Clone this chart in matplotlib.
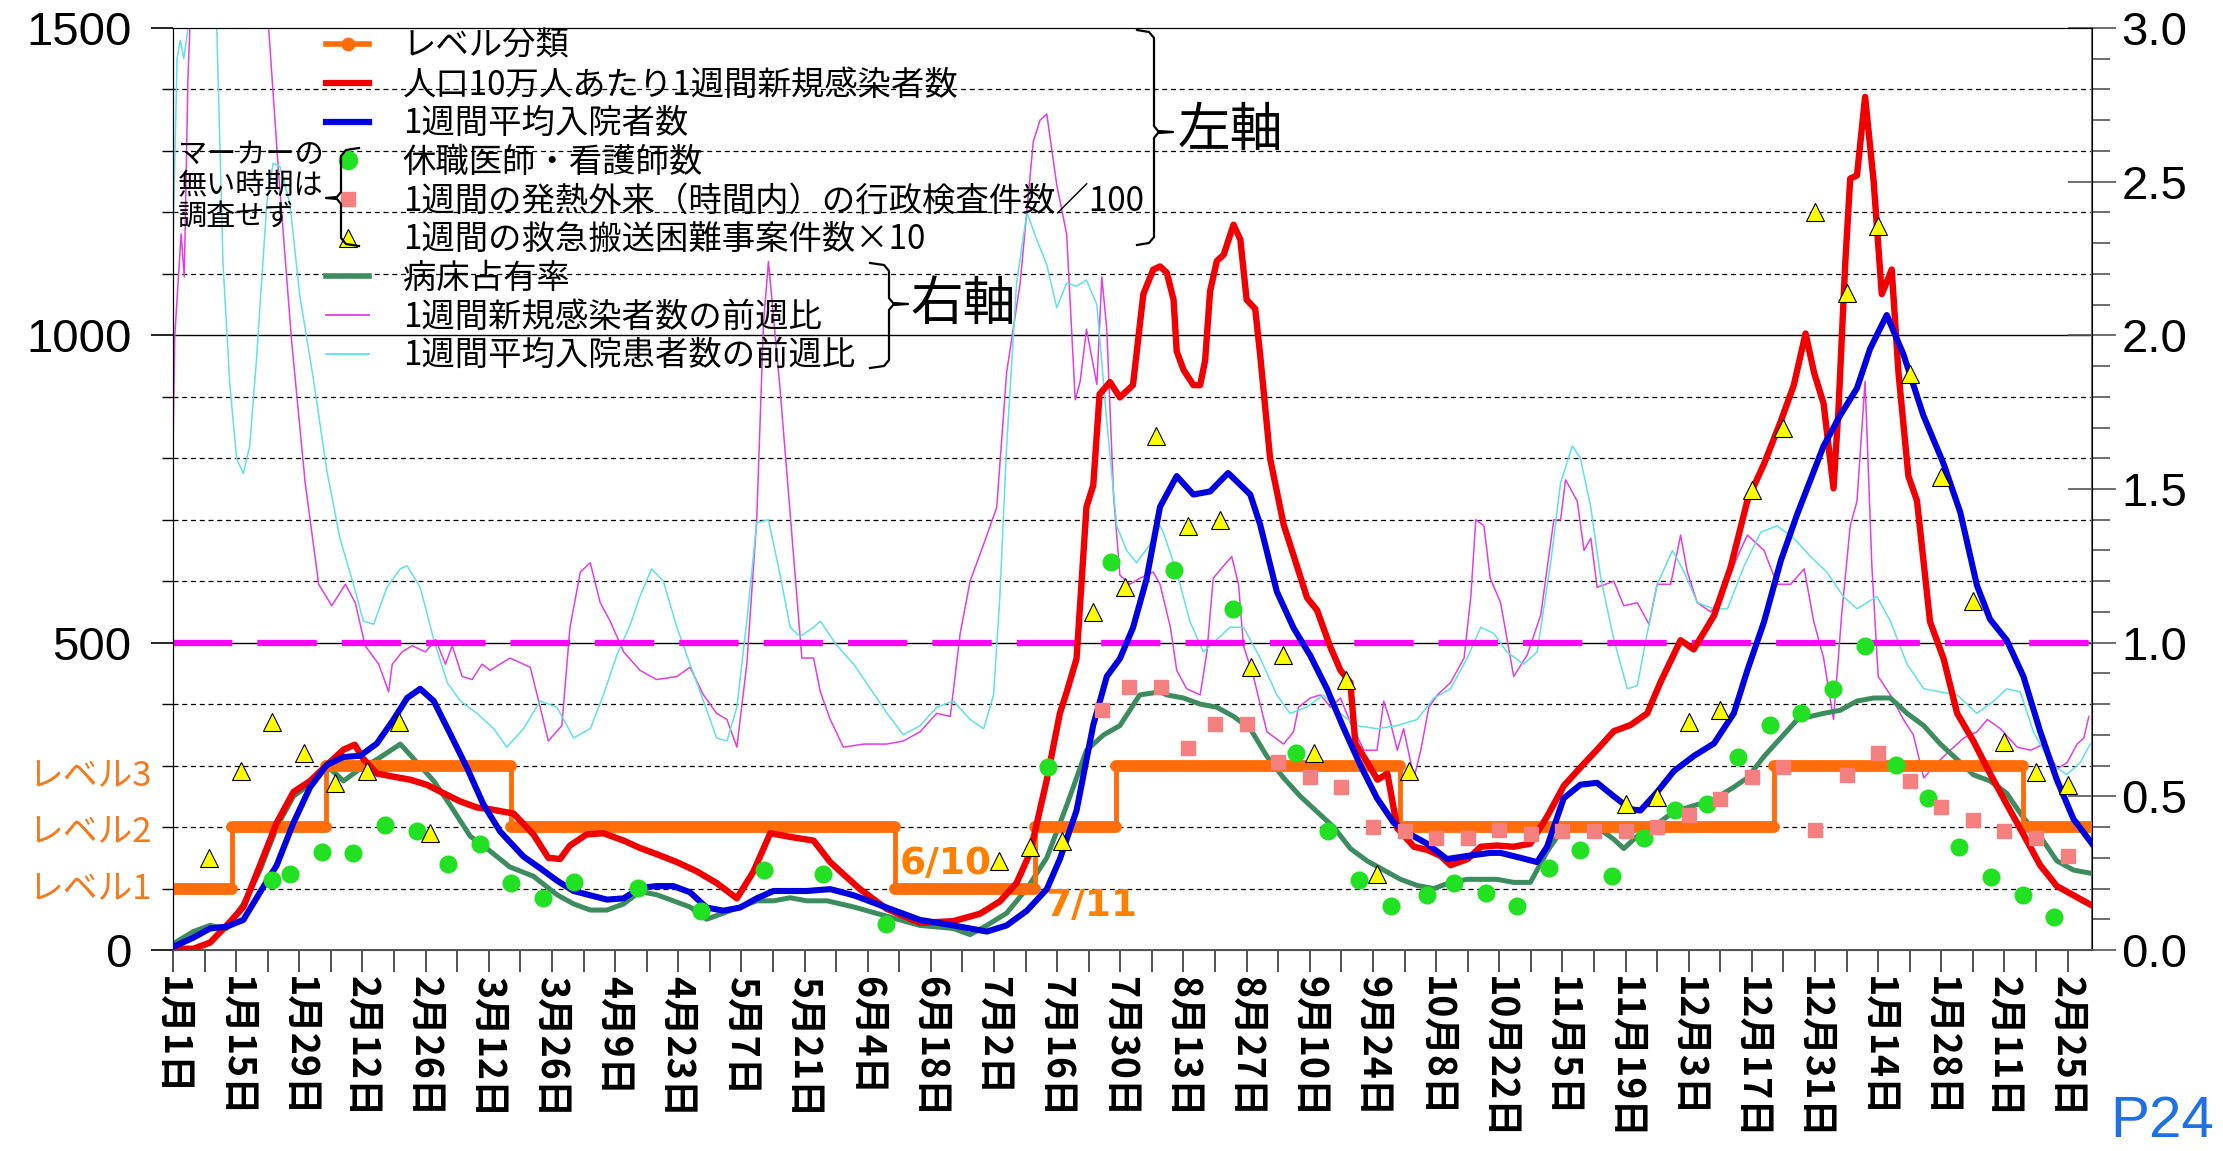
import numpy as np
import matplotlib.pyplot as plt
from matplotlib.lines import Line2D

plt.rcParams['font.family'] = ['Noto Sans CJK JP', 'DejaVu Sans']

W, H = 2223, 1151

# x axis: days counted from 1月1日
tick_days = list(range(0, 421, 14))
tick_labels = ['1月1日', '1月15日', '1月29日', '2月12日', '2月26日', '3月12日', '3月26日',
               '4月9日', '4月23日', '5月7日', '5月21日', '6月4日', '6月18日', '7月2日',
               '7月16日', '7月30日', '8月13日', '8月27日', '9月10日', '9月24日', '10月8日',
               '10月22日', '11月5日', '11月19日', '12月3日', '12月17日', '12月31日',
               '1月14日', '1月28日', '2月11日', '2月25日']
x_end = 425.4

# レベル分類 (left axis: level 1 = 100 ...)
level_edges = [0, 13, 34, 75, 160, 191, 209, 272, 355, 410, 425.4]
level_vals = [100, 200, 300, 200, 100, 200, 300, 200, 300, 200]

# 人口10万人あたり1週間新規感染者数 (day, value)
red = [(0, 2), (4.5, 2), (8.2, 12), (11.9, 40), (15.6, 70), (19.3, 138), (23, 207), (26.7, 257),
       (30.4, 275), (34.1, 301), (37.8, 326), (40.3, 334), (42.2, 311), (45.2, 287), (48.9, 282),
       (52.6, 277), (56.2, 269), (60, 255), (63.6, 242), (67.3, 232), (70.3, 229), (75.5, 222),
       (79.9, 188), (83.2, 150), (85.8, 148), (88, 170), (91.7, 188), (95.4, 190), (99.9, 178),
       (103.5, 166), (107.2, 156), (111.7, 143), (116.1, 128), (120.5, 109), (125, 84), (128.7, 128),
       (132.4, 190), (136.8, 184), (142, 178), (145.7, 143), (147.9, 128), (152.3, 99), (158.2, 67),
       (165.6, 44), (173, 47), (178.9, 59), (183.3, 79), (187, 109), (190, 158), (193.7, 277),
       (196.6, 385), (198, 417), (200.3, 474), (202.5, 721), (204, 756), (205.4, 904), (207.7, 924),
       (209.9, 899), (212.8, 919), (215.1, 1067), (217.3, 1107), (218.8, 1112), (220.3, 1102),
       (221.8, 1058), (222.5, 974), (224, 944), (226.2, 919), (227.7, 919), (228.8, 959),
       (229.9, 1072), (231.4, 1121), (232.9, 1131), (235.1, 1180), (236.6, 1156), (238, 1058),
       (239.9, 1043), (241, 968), (243.2, 800), (246.2, 692), (248.4, 642), (251.4, 573),
       (253.6, 553), (256.5, 494), (258.8, 455), (261, 435), (262.1, 336), (264.7, 306), (267, 277),
       (269.2, 287), (271.4, 198), (275.1, 168), (278, 163), (281, 153), (283.2, 138), (287, 148),
       (289.9, 168), (293.5, 170), (297.2, 168), (300.9, 173), (304.6, 217), (308.3, 267),
       (312, 297), (315.7, 326), (319.4, 356), (323.1, 366), (326.8, 385), (329.7, 435),
       (334.2, 504), (337.1, 489), (341.6, 544), (345.3, 623), (349, 731), (352.7, 791),
       (356.4, 860), (359.3, 919), (361.9, 1003), (363.8, 939), (365.9, 889), (368.1, 751),
       (369.2, 880), (370.7, 1117), (371.8, 1255), (373.3, 1260), (375.1, 1388), (377, 1250),
       (378.8, 1067), (381, 1107), (382.5, 939), (384.7, 771), (386.6, 731), (389.5, 534),
       (392.5, 474), (395.5, 385), (399.1, 340), (402.8, 287), (406.5, 237), (410.2, 188),
       (413.9, 138), (417.6, 104), (421.3, 89), (425, 74)]

# 1週間平均入院者数
blue = [(0, 5), (4.5, 20), (8.2, 35), (11.9, 38), (15.6, 49), (19.3, 94), (23, 138), (26.7, 207),
        (30.4, 265), (34.1, 301), (37.8, 314), (41.5, 316), (45.2, 336), (48.9, 375), (51.9, 410),
        (54.8, 425), (57.8, 405), (61.5, 351), (65.2, 296), (68.8, 237), (72.5, 193), (74, 181),
        (77.7, 152), (81.4, 133), (85.1, 113), (88.8, 96), (92.5, 89), (96.2, 82), (99.9, 84),
        (103.5, 101), (107.2, 104), (110.9, 104), (114.6, 94), (118.3, 69), (122, 64), (125.7, 69),
        (129.4, 84), (133.1, 96), (136.8, 96), (140.5, 96), (145.7, 99), (150.9, 89), (158.2, 69),
        (165.6, 49), (173, 40), (180.4, 30), (184.8, 40), (189.3, 64), (193.7, 99), (196.6, 148),
        (200.3, 227), (204, 366), (207, 445), (209.9, 474), (212.8, 524), (215.8, 603),
        (218.8, 721), (222.5, 771), (226.2, 741), (229.9, 746), (233.9, 776), (238.8, 741),
        (241, 692), (244.7, 583), (248.4, 524), (252.1, 479), (255.8, 425), (259.5, 361),
        (263.2, 301), (266.9, 247), (270.6, 207), (274.3, 188), (278, 173), (282.4, 148),
        (286.9, 153), (292, 158), (294.3, 158), (298.7, 150), (302.4, 143), (304.6, 168),
        (308.3, 247), (312, 269), (315.7, 272), (319.4, 250), (323.1, 229), (325.3, 227),
        (329, 257), (332.7, 291), (337.2, 316), (341.6, 336), (346, 385), (349, 455), (352.7, 534),
        (356.4, 633), (360.1, 710), (365.9, 820), (369.6, 870), (373.3, 914), (376.2, 978),
        (379.9, 1033), (383.6, 969), (388, 870), (392.5, 791), (396.2, 712), (399.9, 593),
        (402.8, 538), (406.5, 504), (410.2, 445), (413.9, 356), (417.6, 277), (421.3, 213),
        (425.4, 173)]

# 休職医師・看護師数
doc_days = [22, 26, 33, 40, 47, 54, 61, 68, 75, 82, 89, 103, 117, 131, 144, 158, 194, 208, 222,
            235, 249, 256, 263, 270, 278, 284, 291, 298, 305, 312, 319, 326, 333, 340, 347, 354,
            361, 368, 375, 382, 389, 396, 403, 410, 417]
doc_vals = [114, 124, 160, 158, 203, 193, 140, 173, 109, 84, 111, 101, 64, 130, 124, 42, 298, 632,
            618, 555, 321, 193, 114, 71, 89, 109, 92, 72, 133, 163, 121, 183, 227, 237, 314, 366,
            385, 425, 494, 301, 247, 168, 119, 89, 54]

# 1週間の発熱外来(時間内)の行政検査件数/100
fever_days = [206, 212, 219, 225, 231, 238, 245, 252, 259, 266, 273, 280, 287, 294, 301, 308, 315,
              322, 329, 336, 343, 350, 357, 364, 371, 378, 385, 392, 399, 406, 413, 420]
fever_vals = [390, 428, 428, 328, 368, 368, 306, 282, 265, 200, 193, 183, 183, 196, 188, 193, 193,
              193, 200, 219, 245, 282, 298, 196, 284, 321, 275, 232, 212, 193, 183, 153]

# 1週間の救急搬送困難事案件数×10
amb_days = [8, 15, 22, 29, 36, 43, 50, 57, 183, 190, 197, 204, 211, 218, 225, 232, 239, 246, 253,
            260, 267, 274, 322, 329, 336, 343, 350, 357, 364, 371, 378, 385, 392, 399, 406, 413, 420]
amb_vals = [150, 291, 371, 321, 272, 291, 371, 190, 145, 168, 178, 550, 590, 837, 689, 699, 460,
            480, 321, 440, 124, 291, 237, 249, 371, 390, 749, 850, 1200, 1069, 1178, 937, 769, 568,
            338, 289, 269]

# 病床占有率 (right axis)
bed = [(0, 0.02), (4.5, 0.06), (8.2, 0.08), (11.9, 0.07), (15.6, 0.15), (19.3, 0.26), (23, 0.40),
       (26.7, 0.50), (30.4, 0.54), (34.1, 0.60), (37.8, 0.55), (41.5, 0.59), (45.2, 0.62),
       (50.4, 0.67), (54.1, 0.61), (57.8, 0.55), (61.5, 0.47), (65.9, 0.37), (69.6, 0.33),
       (74.7, 0.27), (79.9, 0.24), (85.1, 0.18), (88.8, 0.15), (92.5, 0.13), (96.2, 0.13),
       (99.9, 0.15), (103.5, 0.19), (107.2, 0.18), (110.9, 0.16), (114.6, 0.14), (118.3, 0.10),
       (122, 0.12), (125.7, 0.14), (129.4, 0.16), (133.1, 0.16), (136.8, 0.17), (140.5, 0.16),
       (145, 0.16), (150.9, 0.14), (158.2, 0.11), (165.6, 0.08), (173, 0.07), (176.7, 0.05),
       (180.4, 0.08), (184.8, 0.12), (189.3, 0.20), (193.7, 0.30), (198.1, 0.47), (202.5, 0.65),
       (206.3, 0.70), (209.9, 0.73), (214.3, 0.83), (218.8, 0.84), (220.3, 0.83), (224, 0.82),
       (227.7, 0.80), (231.4, 0.79), (235.1, 0.76), (238.8, 0.72), (242.5, 0.63), (246.2, 0.56),
       (249.9, 0.50), (253.6, 0.45), (257.3, 0.40), (261, 0.33), (264.7, 0.29), (268.4, 0.26),
       (272.1, 0.23), (275.8, 0.21), (279.5, 0.20), (283.2, 0.22), (286.9, 0.23), (290, 0.23),
       (293.5, 0.23), (297.2, 0.22), (300.9, 0.22), (304.6, 0.32), (308.3, 0.40), (312, 0.40),
       (315.7, 0.40), (319.4, 0.36), (321.6, 0.33), (325.3, 0.38), (329, 0.41), (332.7, 0.45),
       (337.2, 0.47), (341.6, 0.49), (346, 0.53), (349, 0.56), (352.7, 0.63), (356.4, 0.69),
       (360.1, 0.75), (365.9, 0.77), (369.6, 0.78), (373.3, 0.81), (377, 0.82), (380.7, 0.82),
       (384.4, 0.77), (388.1, 0.73), (391.8, 0.67), (395.5, 0.62), (399.1, 0.57), (402.8, 0.55),
       (406.5, 0.51), (410.2, 0.43), (413.9, 0.37), (417.6, 0.29), (421.3, 0.26), (425, 0.25)]

# 1週間新規感染者数の前週比 (right axis)
inf_ratio = [(0, 1.64), (0.4, 2.0), (1.8, 2.33), (2.5, 2.19), (3.3, 2.83), (4.0, 3.1), (12, 3.6),
             (20.5, 3.1), (21.2, 3.0), (23.4, 2.53), (26.3, 1.98), (29.3, 1.52), (32.3, 1.19),
             (35.2, 1.12), (38.2, 1.19), (40.4, 1.13), (42.6, 0.99), (45.6, 0.93), (47.8, 0.84),
             (48.6, 0.93), (50.8, 0.97), (53, 0.99), (56, 0.97), (58.2, 1.01), (60.4, 0.93),
             (61.9, 0.99), (64.1, 0.89), (66.3, 0.88), (68.5, 0.93), (70.3, 0.91), (74.7, 0.95),
             (79.2, 0.92), (81.4, 0.79), (83.2, 0.68), (86.2, 0.73), (88, 1.05), (90.3, 1.23),
             (92.5, 1.26), (94.7, 1.13), (96.9, 1.07), (99.9, 0.97), (103.5, 0.91), (107.2, 0.88),
             (111.7, 0.89), (114.6, 0.92), (117.6, 0.83), (120.5, 0.77), (122.8, 0.75), (125, 0.66),
             (127.2, 0.93), (129.4, 1.40), (130.9, 2.04), (132, 2.24), (134.6, 1.82), (136.8, 1.42),
             (139.4, 0.95), (142, 0.95), (143.5, 0.84), (145.7, 0.75), (148.6, 0.66), (153.1, 0.67),
             (158.2, 0.67), (161.9, 0.68), (165.6, 0.71), (169.3, 0.77), (172.3, 0.76),
             (174.5, 1.03), (176.7, 1.20), (179.7, 1.32), (182.6, 1.44), (184.8, 1.88),
             (187.8, 2.17), (190.7, 2.63), (192.2, 2.70), (193.7, 2.72), (195.9, 2.49),
             (198.1, 2.33), (200, 1.79), (201.1, 1.85), (202.5, 2.02), (204.8, 1.84), (205.9, 2.19),
             (207, 2.02), (208.5, 1.48), (209.9, 1.22), (212.1, 1.19), (214.4, 1.21), (217.3, 1.23),
             (218.8, 1.19), (221.1, 1.05), (222.5, 0.91), (224.7, 0.85), (227.7, 0.83),
             (229.2, 0.97), (230.6, 1.21), (232.9, 1.25), (234.7, 1.28), (236.2, 1.19),
             (237.3, 0.99), (239.5, 0.89), (242.5, 0.71), (246.2, 0.67), (248.4, 0.71),
             (249.5, 0.79), (252.1, 0.82), (254.4, 0.83), (256.6, 0.79), (258.8, 0.82), (261, 0.74),
             (264, 0.65), (266.9, 0.65), (268.4, 0.81), (269.9, 0.74), (271.4, 0.65), (272.8, 0.72),
             (275.1, 0.56), (276.6, 0.65), (278.4, 0.79), (280.3, 0.83), (283.2, 0.87),
             (286.2, 0.95), (287.7, 1.15), (288.8, 1.40), (290.6, 1.38), (292, 1.21), (294.3, 1.13),
             (297.2, 0.89), (300.2, 0.96), (303.2, 1.09), (306.1, 1.40), (307.6, 1.40),
             (308.7, 1.53), (311.3, 1.46), (312.8, 1.30), (314.3, 1.34), (315.7, 1.18),
             (319.4, 1.20), (321.6, 1.12), (324.6, 1.13), (327.2, 1.06), (329, 1.19), (332, 1.19),
             (334.2, 1.35), (335.7, 1.23), (337.9, 1.13), (340.9, 1.10), (343.8, 1.17),
             (346.8, 1.28), (349, 1.35), (352.7, 1.30), (355.6, 1.19), (358.6, 1.19),
             (361.6, 1.24), (363.7, 1.07), (365.9, 0.95), (368.1, 0.75), (369.9, 1.09),
             (371.8, 1.38), (373.3, 1.46), (375.1, 1.85), (376.6, 1.25), (378, 0.89), (380.7, 0.83),
             (383.6, 0.75), (385.8, 0.70), (388.1, 0.56), (391.1, 0.61), (394, 0.65), (397, 0.69),
             (399.9, 0.71), (402.2, 0.75), (405.1, 0.72), (408.8, 0.66), (411.8, 0.65),
             (414.7, 0.67), (417.7, 0.59), (419.9, 0.61), (422.1, 0.67), (423.6, 0.69),
             (424.7, 0.76)]

# 1週間平均入院患者数の前週比 (right axis)
hosp_ratio = [(0, 2.3), (0.9, 2.9), (1.6, 2.96), (2.4, 2.9), (3.3, 3.0), (4, 3.1), (7, 3.3),
              (9.7, 3.0), (11.1, 2.23), (12.6, 1.84), (14.1, 1.60), (15.6, 1.55), (17, 1.64),
              (18.5, 1.92), (20.8, 2.43), (22.2, 2.56), (23.7, 2.55), (25.9, 2.43), (28.1, 2.13),
              (31.1, 1.86), (34.1, 1.56), (37, 1.34), (40, 1.19), (42.2, 1.07), (44.5, 1.06),
              (47.4, 1.18), (50.4, 1.24), (51.9, 1.25), (54.8, 1.18), (57.8, 1.01), (60.8, 0.87),
              (63.7, 0.81), (67.4, 0.77), (71.1, 0.72), (74, 0.66), (77.7, 0.72), (81.4, 0.81),
              (85.1, 0.79), (88.8, 0.69), (92.5, 0.72), (95.4, 0.83), (98.4, 0.96), (101.4, 1.06),
              (103.5, 1.15), (106.1, 1.24), (108.7, 1.20), (111.7, 1.05), (114.6, 0.93),
              (117.6, 0.81), (120.5, 0.69), (122.8, 0.68), (125, 0.79), (127.2, 1.07),
              (129.4, 1.39), (132, 1.40), (134.6, 1.22), (136.8, 1.05), (139, 1.02), (142, 1.05),
              (143.5, 1.07), (147.2, 0.99), (150.9, 0.93), (154.6, 0.85), (158.3, 0.77),
              (161.9, 0.70), (165.6, 0.73), (169.3, 0.79), (173, 0.81), (176.7, 0.75),
              (179.7, 0.72), (181.9, 0.83), (183.3, 1.15), (184.8, 1.64), (187, 2.17),
              (189.3, 2.40), (191.5, 2.31), (193.7, 2.23), (195.9, 2.09), (198.1, 2.17),
              (200.3, 2.16), (202.5, 2.18), (204.8, 2.10), (207, 1.72), (209.2, 1.38),
              (211.4, 1.30), (213.6, 1.26), (216.6, 1.32), (218.8, 1.38), (219.5, 1.36),
              (222.5, 1.23), (225.4, 1.07), (228.4, 0.97), (231.4, 1.01), (234.3, 1.05),
              (237.3, 1.05), (241, 0.95), (244.7, 0.83), (247.6, 0.77), (251.3, 0.79), (255, 0.83),
              (258.7, 0.77), (262.4, 0.73), (266.9, 0.72), (271.3, 0.73), (275.8, 0.75),
              (279.5, 0.82), (283.2, 0.85), (286.9, 0.95), (289.9, 1.05), (292.8, 1.03),
              (295.7, 0.97), (299.4, 0.93), (302.4, 0.97), (305.4, 1.26), (307.6, 1.52),
              (310.2, 1.64), (312, 1.60), (314.3, 1.44), (316.5, 1.21), (319.4, 1.01),
              (322.4, 0.85), (324.6, 0.86), (326.8, 1.03), (329, 1.19), (332.4, 1.30), (335, 1.23),
              (337.9, 1.13), (341.6, 1.11), (344.6, 1.11), (348.3, 1.25), (352, 1.36),
              (355.6, 1.38), (359.3, 1.34), (363, 1.28), (366.6, 1.23), (370.3, 1.15),
              (373.3, 1.11), (377.7, 1.15), (380.7, 1.07), (384.4, 0.93), (388.1, 0.85),
              (391.8, 0.84), (395.5, 0.83), (399.9, 0.77), (403.6, 0.81), (406.5, 0.85),
              (409.5, 0.84), (412.4, 0.71), (416.1, 0.61), (419.8, 0.57), (422.8, 0.61),
              (425, 0.67)]

ORANGE = '#FF6D0A'
RED = '#F00000'
BLUE = '#0000E0'
DKGREEN = '#3C8C5F'
LIME = '#22E022'
PINK = '#F48080'
MAGENTA = '#E040E0'
CYAN = '#60E0E8'

fig = plt.figure(figsize=(W / 100, H / 100), dpi=100)
ax = fig.add_axes([173 / W, 1 - 950 / H, (2092 - 173) / W, (950 - 28) / H])
ax2 = ax.twinx()
ax.set_zorder(ax2.get_zorder() + 1)
ax.patch.set_visible(False)

# gridlines (every 100 on left = 0.2 on right)
for g in np.arange(0.2, 2.9, 0.2):
    solid = abs(g - 1.0) < 1e-6 or abs(g - 2.0) < 1e-6
    ax2.axhline(g, color='black', lw=1.0 if solid else 0.9,
                ls='-' if solid else (0, (4, 3)), zorder=0)

# right axis series
d, v = np.array(bed).T
ax2.plot(d, v, color=DKGREEN, lw=3.6, zorder=3)
d, v = np.array(inf_ratio).T
ax2.plot(d, v, color=MAGENTA, lw=1.1, zorder=2)
d, v = np.array(hosp_ratio).T
ax2.plot(d, v, color=CYAN, lw=1.1, zorder=2)
ax2.axhline(1.0, color='#FF00FF', lw=4.5, ls=(0, (9.5, 4)), zorder=2.5)

# left axis series
ax.hlines(level_vals, level_edges[:-1], level_edges[1:], color=ORANGE, lw=8.5,
          capstyle='round', zorder=2)
ax.step(level_edges, level_vals + [level_vals[-1]], where='post', color=ORANGE, lw=3.5, zorder=2)
d, v = np.array(red).T
ax.plot(d, v, color=RED, lw=4.6, zorder=3)
d, v = np.array(blue).T
ax.plot(d, v, color=BLUE, lw=4.4, zorder=3.2)
ax.plot(doc_days, doc_vals, ls='none', marker='o', ms=12, color=LIME, zorder=4)
ax.plot(fever_days, fever_vals, ls='none', marker='s', ms=10, color=PINK, zorder=4)
ax.plot(amb_days, amb_vals, ls='none', marker='^', ms=13, mfc='#FFFF00', mec='black', mew=0.8,
        zorder=4)

ax.set_xlim(0, x_end)
ax.set_ylim(0, 1500)
ax2.set_ylim(0, 3.0)

num_font = dict(family='Liberation Sans', size=34)
ax.set_yticks([0, 500, 1000, 1500])
ax.set_yticklabels(['0', '500', '1000', '1500'], fontdict=num_font)
ax.set_yticks(np.arange(0, 1501, 100), minor=True)
ax.tick_params(axis='y', which='major', length=16, width=1.2, pad=14, direction='out')
ax.tick_params(axis='y', which='minor', length=8, width=1.0, direction='out')

ax2.set_yticks(np.arange(0, 3.01, 0.5))
ax2.set_yticklabels(['0.0', '0.5', '1.0', '1.5', '2.0', '2.5', '3.0'], fontdict=num_font)
ax2.set_yticks(np.arange(0, 3.01, 0.1), minor=True)
ax2.tick_params(axis='y', which='major', length=34, width=1.2, direction='inout', pad=4,
                color='#555555')
ax2.tick_params(axis='y', which='minor', length=13, width=1.2, direction='out', color='#555555')

ax.set_xticks(tick_days)
ax.set_xticklabels(tick_labels, rotation=270, fontsize=27, fontweight='bold',
                   ha='center', va='top')
ax.set_xticks(np.arange(7, x_end, 14), minor=True)
ax.tick_params(axis='x', which='both', length=16, width=1.2, pad=3, color='#333333')

for side in ['left', 'top']:
    ax.spines[side].set_color('black')
ax.spines['bottom'].set_color('#555555')
ax.spines['bottom'].set_linewidth(1.4)
ax2.spines['right'].set_color('#666666')
ax2.spines['right'].set_linewidth(1.4)

# level labels on the left
ytrans = ax.get_yaxis_transform()
for lv, y in zip(['レベル3', 'レベル2', 'レベル1'], [283, 193, 100]):
    ax.text(-0.011, y, lv, transform=ytrans, ha='right', va='center', fontsize=25,
            color='#F57A1E')
ax.text(161, 140, '6/10', fontsize=27, color='#FF8000', fontweight='bold', ha='left', va='center',
        family='Liberation Sans Narrow')
ax.text(193.5, 72, '7/11', fontsize=27, color='#FF8000', fontweight='bold', ha='left', va='center',
        family='Liberation Sans Narrow')

# legend
handles = [
    Line2D([], [], color=ORANGE, lw=4, marker='o', ms=9),
    Line2D([], [], color=RED, lw=4.5),
    Line2D([], [], color=BLUE, lw=4.5),
    Line2D([], [], ls='none', marker='o', ms=13, color=LIME),
    Line2D([], [], ls='none', marker='s', ms=10, color=PINK),
    Line2D([], [], ls='none', marker='^', ms=13, mfc='#FFFF00', mec='black', mew=0.8),
    Line2D([], [], color=DKGREEN, lw=4),
    Line2D([], [], color=MAGENTA, lw=1.3),
    Line2D([], [], color=CYAN, lw=1.3),
]
labels = ['レベル分類', '人口10万人あたり1週間新規感染者数', '1週間平均入院者数', '休職医師・看護師数',
          '1週間の発熱外来（時間内）の行政検査件数／100', '1週間の救急搬送困難事案件数×10',
          '病床占有率', '1週間新規感染者数の前週比', '1週間平均入院患者数の前週比']
ax.legend(handles, labels, loc='upper left', bbox_to_anchor=(326 / W, 1 - 29 / H),
          bbox_transform=fig.transFigure, frameon=False, fontsize=24, borderpad=0,
          borderaxespad=0, handlelength=1.3, handletextpad=1.0, labelspacing=0.11)


def fig_line(xs, ys):
    fig.add_artist(Line2D([x / W for x in xs], [1 - y / H for y in ys],
                          transform=fig.transFigure, color='black', lw=1.6))


def right_brace(x0, x1, x2, yt, ym, yb):
    fig_line([x0, x1 - 5, x1, x1, x1 + 4, x2, x1 + 4, x1, x1, x1 - 5, x0],
             [yt, yt + 2, yt + 8, ym - 6, ym - 1, ym, ym + 1, ym + 6, yb - 8, yb - 2, yb])


def left_brace(x0, x1, x2, yt, ym, yb):
    fig_line([x0, x1 + 5, x1, x1, x1 - 4, x2, x1 - 4, x1, x1, x1 + 5, x0],
             [yt, yt + 2, yt + 8, ym - 6, ym - 1, ym, ym + 1, ym + 6, yb - 8, yb - 2, yb])


right_brace(1137, 1154, 1173, 30, 132, 245)
right_brace(870, 889, 908, 263, 304, 368)
left_brace(359, 341, 326, 148, 198, 246)

fig.text(1178 / W, 1 - 130 / H, '左軸', fontsize=38, va='center', ha='left')
fig.text(910 / W, 1 - 304 / H, '右軸', fontsize=38, va='center', ha='left')
fig.text(178 / W, 1 - 186 / H, 'マーカーの\n無い時期は\n調査せず', fontsize=21, va='center',
         ha='left', linespacing=1.05)
fig.text(0.996, 0.012, 'P24', fontsize=42, color='#1F6FE5', ha='right', va='baseline',
         family='Liberation Sans')

fig.savefig('out.png', dpi=100)
